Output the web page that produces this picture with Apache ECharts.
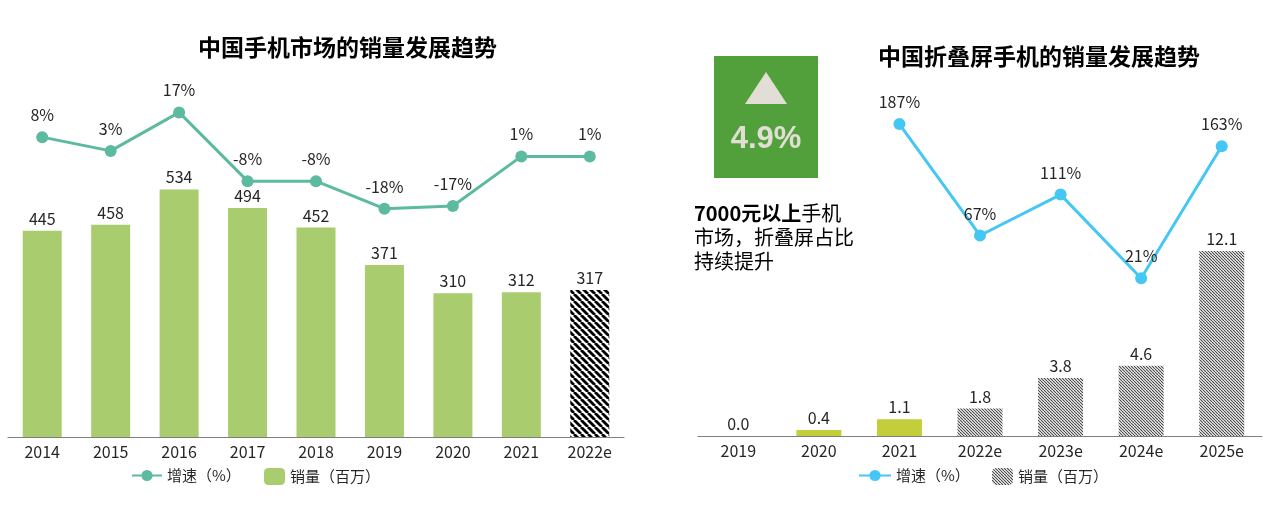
<!DOCTYPE html>
<html><head><meta charset="utf-8">
<script src="https://cdn.jsdelivr.net/npm/echarts@6/dist/echarts.min.js"></script>
<style>html,body{margin:0;padding:0;background:#fff}#c{width:1280px;height:506px}</style>
</head><body><div id="c"></div>
<script>
// ---------- data ----------
const leftCategories = ['2014','2015','2016','2017','2018','2019','2020','2021','2022e'];
const leftSales = [445, 458, 534, 494, 452, 371, 310, 312, 317];
const leftGrowth = [8, 3, 17, -8, -8, -18, -17, 1, 1];

const rightCategories = ['2019','2020','2021','2022e','2023e','2024e','2025e'];
const rightSales = [0.0, 0.4, 1.1, 1.8, 3.8, 4.6, 12.1];
const rightGrowth = [null, null, 187, 67, 111, 21, 163];

const leftTitle = '中国手机市场的销量发展趋势';
const rightTitle = '中国折叠屏手机的销量发展趋势';
const growthName = '增速（%）';
const salesName = '销量（百万）';
const boxValue = '4.9%';

// ---------- patterns ----------
function hatch(p, w, color) {
  const c = document.createElement('canvas');
  c.width = p; c.height = p;
  const g = c.getContext('2d');
  g.fillStyle = '#fff'; g.fillRect(0, 0, p, p);
  g.strokeStyle = color; g.lineWidth = w;
  for (let k = -1; k <= 1; k++) {
    g.beginPath(); g.moveTo(k * p, 0); g.lineTo(k * p + p, p); g.stroke();
  }
  return { image: c, repeat: 'repeat' };
}
const bigHatch = hatch(7, 2.8, '#000');
const fineHatch = hatch(3, 1.1, '#444');

const FONT = '"Noto Sans CJK SC", "Noto Sans", sans-serif';
const TXT = '#262626';
const GREEN = '#A9CD6E', TEAL = '#5CBAA1', CYAN = '#44C7F4', OLIVE = '#C2CE3A';

const chart = echarts.init(document.getElementById('c'));
const nameMap = { Lg: growthName, Ls: salesName, Rg: growthName, Rs: salesName };
const legText = { fontSize: 15, color: TXT, fontFamily: FONT };

chart.setOption({
  animation: false,
  textStyle: { fontFamily: FONT },
  title: [
    { text: leftTitle, left: 198, top: 36, padding: 0,
      textStyle: { fontSize: 23, fontWeight: 'bold', color: '#000', fontFamily: FONT } },
    { text: rightTitle, left: 878, top: 45, padding: 0,
      textStyle: { fontSize: 23, fontWeight: 'bold', color: '#000', fontFamily: FONT } }
  ],
  legend: [
    { data: ['Lg'], left: 126, top: 463, itemWidth: 30, itemHeight: 14, formatter: n => nameMap[n], textStyle: legText, selectedMode: false },
    { data: ['Ls'], left: 259, top: 463, itemWidth: 21, itemHeight: 17, formatter: n => nameMap[n], textStyle: legText, selectedMode: false },
    { data: ['Rg'], left: 853, top: 463, itemWidth: 32, itemHeight: 14, formatter: n => nameMap[n], textStyle: legText, selectedMode: false },
    { data: ['Rs'], left: 987, top: 463, itemWidth: 21, itemHeight: 17, formatter: n => nameMap[n], textStyle: legText, selectedMode: false }
  ],
  grid: [
    { left: 8, right: 656, top: 67, bottom: 69 },
    { left: 698, right: 18, top: 60, bottom: 70 }
  ],
  xAxis: [
    { type: 'category', gridIndex: 0, data: leftCategories,
      axisLine: { lineStyle: { color: '#7f7f7f', width: 1 } }, axisTick: { show: false },
      axisLabel: { fontSize: 16, color: TXT, margin: 7, fontFamily: FONT } },
    { type: 'category', gridIndex: 1, data: rightCategories,
      axisLine: { lineStyle: { color: '#7f7f7f', width: 1 } }, axisTick: { show: false },
      axisLabel: { fontSize: 16, color: TXT, margin: 7, fontFamily: FONT } }
  ],
  yAxis: [
    { type: 'value', gridIndex: 0, min: 0, max: 798, show: false, splitLine: { show: false } },
    { type: 'value', gridIndex: 0, min: -101, max: 33.5, show: false, splitLine: { show: false } },
    { type: 'value', gridIndex: 1, min: 0, max: 24.6, show: false, splitLine: { show: false } },
    { type: 'value', gridIndex: 1, min: -149, max: 256, show: false, splitLine: { show: false } }
  ],
  series: [
    { name: 'Ls', type: 'bar', xAxisIndex: 0, yAxisIndex: 0, barWidth: 39,
      itemStyle: { color: GREEN },
      data: leftSales.map((v, i) => i === leftSales.length - 1 ? { value: v, itemStyle: { color: bigHatch } } : v),
      label: { show: true, position: 'top', distance: 4, fontSize: 16, color: TXT, fontFamily: FONT } },
    { name: 'Lg', type: 'line', xAxisIndex: 0, yAxisIndex: 1, data: leftGrowth,
      symbol: 'circle', symbolSize: 12, lineStyle: { color: TEAL, width: 3 }, itemStyle: { color: TEAL },
      label: { show: true, position: 'top', distance: 8, fontSize: 16, color: TXT, fontFamily: FONT, formatter: p => p.value + '%' } },
    { name: 'Rs', type: 'bar', xAxisIndex: 1, yAxisIndex: 2, barWidth: 45,
      itemStyle: { color: fineHatch },
      data: rightSales.map((v, i) => (i === 1 || i === 2) ? { value: v, itemStyle: { color: OLIVE } } : v),
      label: { show: true, position: 'top', distance: 4, fontSize: 16, color: TXT, fontFamily: FONT, formatter: p => p.value.toFixed(1) } },
    { name: 'Rg', type: 'line', xAxisIndex: 1, yAxisIndex: 3, data: rightGrowth,
      symbol: 'circle', symbolSize: 12, lineStyle: { color: CYAN, width: 3 }, itemStyle: { color: CYAN },
      label: { show: true, position: 'top', distance: 8, fontSize: 16, color: TXT, fontFamily: FONT, formatter: p => p.value + '%' } }
  ],
  graphic: [
    { type: 'rect', shape: { x: 714, y: 56, width: 104, height: 122 }, style: { fill: '#52A03B' } },
    { type: 'polygon', shape: { points: [[766, 72], [745, 104], [787, 104]] }, style: { fill: '#E2DED6' } },
    { type: 'text', x: 766, y: 139, style: { text: boxValue, fill: '#E2DED6', font: 'bold 31px "Liberation Sans", Arial, sans-serif', textAlign: 'center', textVerticalAlign: 'middle' } },
    { type: 'text', x: 694, y: 201, style: {
        text: '{b|7000元以上}{n|手机}\n{n|市场，折叠屏占比}\n{n|持续提升}',
        rich: {
          b: { fontSize: 20, fontWeight: 'bold', fill: '#000', fontFamily: FONT, lineHeight: 24 },
          n: { fontSize: 20, fill: '#000', fontFamily: FONT, lineHeight: 24 }
        } } }
  ]
});
</script></body></html>
